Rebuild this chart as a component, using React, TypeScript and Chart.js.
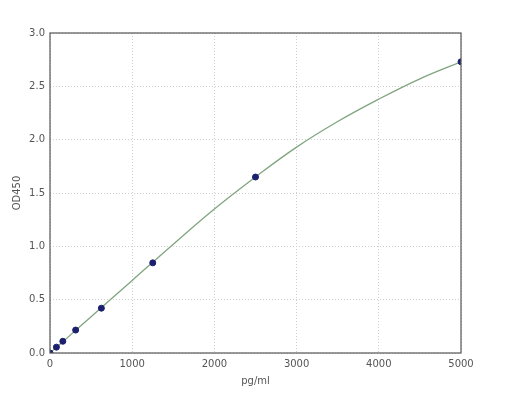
import React, { useEffect, useRef } from 'react';
import { Chart, registerables } from 'chart.js';

Chart.register(...registerables);

// standards (pg/ml) and measured OD450
const stdConc = [0, 78, 156, 312, 625, 1250, 2500, 5000];
const stdOD = [0.0, 0.055, 0.11, 0.215, 0.42, 0.845, 1.65, 2.73];

// fitted curve
const curveConc = [0, 250, 500, 1000, 1500, 2000, 2500, 3000, 3500, 4000, 4500, 5000];
const curveOD = [0, 0.17, 0.34, 0.68, 1.02, 1.35, 1.65, 1.93, 2.17, 2.38, 2.57, 2.73];

const xTicks = [0, 1000, 2000, 3000, 4000, 5000];
const yTicks = [0, 0.5, 1.0, 1.5, 2.0, 2.5, 3.0];

const frame = {
  id: 'frame',
  afterDatasetsDraw(chart: Chart) {
    const { ctx, chartArea: a } = chart;
    ctx.save();
    ctx.strokeStyle = '#555555';
    ctx.lineWidth = 1.2;
    ctx.strokeRect(a.left, a.top, a.right - a.left, a.bottom - a.top);
    ctx.restore();
  },
};

const App: React.FC = () => {
  const canvasRef = useRef<HTMLCanvasElement>(null);

  useEffect(() => {
    if (!canvasRef.current) return;
    const tickFont = { family: 'DejaVu Sans', size: 10 };

    const chart = new Chart(canvasRef.current, {
      type: 'scatter',
      data: {
        datasets: [
          {
            label: 'standards',
            data: stdConc.map((x, i) => ({ x, y: stdOD[i] })),
            backgroundColor: '#1b1f6e',
            borderColor: '#1b1f6e',
            pointRadius: 3,
            order: 0,
          },
          {
            label: 'fit',
            data: curveConc.map((x, i) => ({ x, y: curveOD[i] })),
            showLine: true,
            borderColor: '#7fa57f',
            borderWidth: 1.3,
            pointRadius: 0,
            tension: 0.4,
            order: 1,
          },
        ],
      },
      options: {
        animation: false,
        responsive: false,
        maintainAspectRatio: false,
        layout: { padding: { left: 0, right: 51, top: 33, bottom: 0 } },
        plugins: { legend: { display: false }, tooltip: { enabled: false } },
        scales: {
          x: {
            type: 'linear',
            min: 0,
            max: 5000,
            afterBuildTicks: (s: any) => {
              s.ticks = xTicks.map((v) => ({ value: v }));
            },
            afterFit: (s: any) => {
              s.height = 49;
            },
            ticks: {
              font: tickFont,
              color: '#555',
              padding: 5,
              maxRotation: 0,
              callback: (v: any) => String(v),
            },
            grid: { color: '#cfcfcf', drawTicks: false },
            border: { display: false, dash: [1, 2] },
            title: {
              display: true,
              text: 'pg/ml',
              font: tickFont,
              color: '#555',
              padding: { top: 0, bottom: 15 },
            },
          },
          y: {
            type: 'linear',
            min: 0,
            max: 3,
            afterBuildTicks: (s: any) => {
              s.ticks = yTicks.map((v) => ({ value: v }));
            },
            afterFit: (s: any) => {
              s.width = 50;
            },
            ticks: {
              font: tickFont,
              color: '#555',
              padding: 5,
              callback: (v: any) => Number(v).toFixed(1),
            },
            grid: { color: '#cfcfcf', drawTicks: false },
            border: { display: false, dash: [1, 2] },
            title: {
              display: true,
              text: 'OD450',
              font: tickFont,
              color: '#555',
              padding: { top: 11, bottom: 0 },
            },
          },
        },
      },
      plugins: [frame],
    });

    return () => {
      chart.destroy();
    };
  }, []);

  return (
    <div style={{ position: 'fixed', left: 0, top: 0, width: 512, height: 402, background: '#fff' }}>
      <canvas ref={canvasRef} width={512} height={402} />
    </div>
  );
};

export default App;
